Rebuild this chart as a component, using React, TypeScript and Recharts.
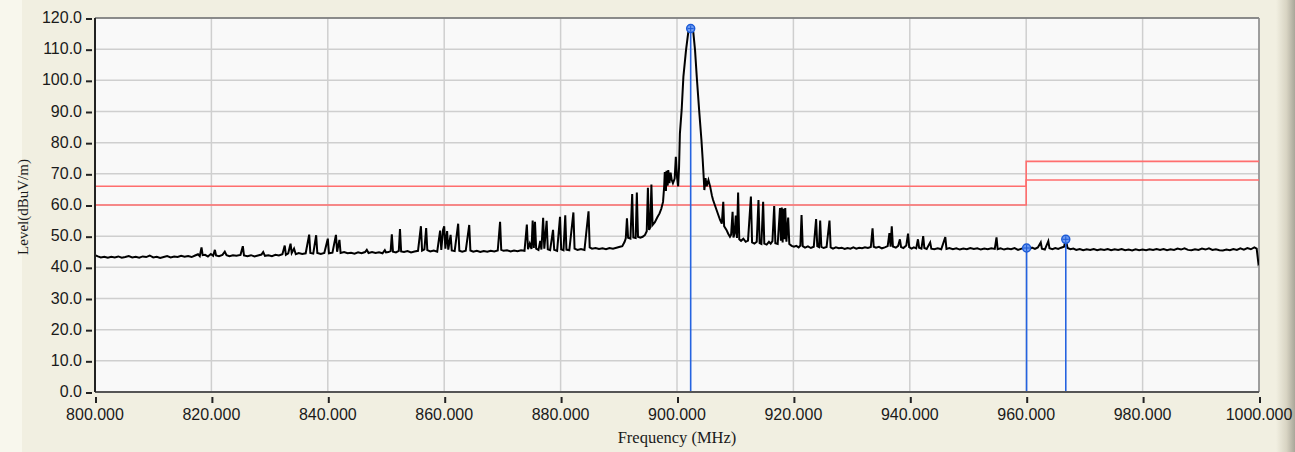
import React from "react";
import {
  LineChart,
  Line,
  XAxis,
  YAxis,
  CartesianGrid,
  ReferenceLine,
} from "recharts";

type Pt = [number, number];

const X_TICKS = [800, 820, 840, 860, 880, 900, 920, 940, 960, 980, 1000];
const Y_TICKS = [0, 10, 20, 30, 40, 50, 60, 70, 80, 90, 100, 110, 120];

// spectrum sweep in pieces (MHz, dBuV/m)
const SWEEP_800_850: Pt[] = [
  [800.0, 43.9], [800.5, 43.5], [801.0, 43.2], [801.6, 43.4], [802.2, 43.1], [802.8, 43.4],
  [803.4, 43.2], [804.0, 43.5], [804.6, 43.1], [805.2, 43.3], [805.8, 43.6], [806.4, 43.2],
  [807.0, 43.4], [807.6, 43.1], [808.2, 43.5], [808.8, 43.3], [809.4, 43.8], [810.0, 43.2],
  [810.6, 43.4], [811.2, 43.0], [811.8, 43.3], [812.4, 43.6], [813.0, 43.2], [813.6, 43.5],
  [814.2, 43.3], [814.8, 43.7], [815.4, 43.4], [816.0, 43.6], [816.6, 43.3], [817.2, 43.8],
  [817.7, 44.2], [818.0, 43.6], [818.3, 46.4], [818.5, 43.9], [818.9, 44.0], [819.4, 43.5],
  [819.9, 44.3], [820.3, 43.7], [820.6, 45.6], [820.8, 43.8], [821.3, 43.6], [821.9, 44.0],
  [822.3, 45.0], [822.6, 43.9], [823.1, 43.6], [823.7, 43.9], [824.3, 43.7], [825.0, 44.0],
  [825.4, 46.8], [825.6, 43.8], [826.2, 43.6], [826.8, 43.9], [827.4, 43.5], [828.0, 43.8],
  [828.6, 44.1], [828.9, 44.9], [829.2, 43.7], [829.8, 43.9], [830.4, 43.6], [831.0, 44.0],
  [831.6, 43.8], [832.2, 44.2], [832.6, 47.0], [832.8, 44.0], [833.2, 44.5], [833.6, 47.6],
  [833.8, 44.6], [834.2, 46.0], [834.5, 44.2], [835.0, 44.6], [835.6, 44.3], [836.2, 44.5],
  [836.8, 50.5], [837.0, 44.6], [837.5, 44.4], [838.0, 50.3], [838.2, 44.6], [838.8, 44.3],
  [839.4, 44.6], [840.0, 49.2], [840.2, 44.5], [840.8, 44.7], [841.4, 50.4], [841.6, 45.0],
  [842.0, 48.8], [842.2, 44.6], [842.8, 44.9], [843.4, 44.5], [844.0, 44.7], [844.6, 44.4],
  [845.2, 44.8], [845.8, 44.5], [846.4, 44.9], [846.7, 45.6], [847.0, 44.6], [847.6, 44.9],
  [848.2, 44.6], [848.8, 44.8], [849.4, 44.5], [849.8, 45.5], [850.0, 44.8],
];

const SWEEP_850_890: Pt[] = [
  [850.4, 44.9], [850.8, 45.2], [851.0, 50.6], [851.2, 45.0], [851.7, 44.8], [852.2, 45.3],
  [852.4, 52.3], [852.6, 45.1], [853.1, 44.9], [853.7, 45.2], [854.3, 44.8], [854.9, 45.1],
  [855.5, 45.3], [856.0, 53.2], [856.2, 45.4], [856.6, 45.8], [856.9, 52.6], [857.1, 45.5],
  [857.6, 45.1], [858.2, 45.4], [858.8, 45.0], [859.3, 51.8], [859.5, 45.6], [859.8, 52.0],
  [860.0, 53.2], [860.2, 46.0], [860.5, 51.6], [860.7, 45.7], [861.1, 50.4], [861.3, 45.4],
  [861.8, 45.2], [862.4, 54.0], [862.6, 45.3], [863.1, 45.0], [863.7, 45.3], [864.3, 53.6],
  [864.5, 45.4], [865.0, 45.0], [865.6, 45.3], [866.2, 44.9], [866.8, 45.2], [867.4, 45.0],
  [868.0, 45.3], [868.6, 45.1], [869.2, 45.4], [869.6, 54.6], [869.8, 45.6], [870.2, 45.3],
  [870.8, 45.5], [871.4, 45.1], [872.0, 45.4], [872.6, 45.2], [873.2, 45.5], [873.8, 45.3],
  [874.2, 53.7], [874.4, 45.8], [874.7, 47.6], [875.0, 45.9], [875.2, 55.0], [875.4, 46.2],
  [875.6, 54.6], [875.8, 46.0], [876.2, 45.6], [876.5, 48.5], [876.7, 45.7], [877.0, 55.9],
  [877.2, 46.0], [877.6, 54.9], [877.8, 45.8], [878.2, 45.5], [878.7, 52.0], [878.9, 45.6],
  [879.4, 45.3], [879.9, 56.2], [880.1, 45.8], [880.5, 45.5], [880.8, 56.7], [881.0, 45.7],
  [881.5, 45.5], [882.2, 57.6], [882.4, 46.0], [882.9, 45.6], [883.5, 45.9], [884.1, 45.6],
  [884.8, 58.0], [885.0, 46.4], [885.4, 46.0], [886.0, 46.2], [886.6, 45.9], [887.2, 46.1],
  [887.8, 45.8], [888.4, 46.2], [889.0, 46.0], [889.6, 46.3], [890.2, 46.6],
];

const SWEEP_890_920: Pt[] = [
  [890.6, 46.8], [891.0, 48.2], [891.2, 49.3], [891.4, 55.7], [891.6, 49.5], [892.0, 49.2],
  [892.3, 63.5], [892.5, 49.6], [892.9, 49.4], [893.1, 64.0], [893.3, 49.8], [893.7, 49.5],
  [894.1, 49.8], [894.5, 50.4], [894.8, 51.6], [895.0, 65.5], [895.2, 52.0], [895.4, 52.8],
  [895.6, 66.6], [895.8, 53.6], [896.2, 54.5], [896.6, 56.0], [897.0, 57.3], [897.3, 58.8],
  [897.6, 61.0], [897.8, 66.0], [897.9, 70.6], [898.1, 64.5], [898.2, 71.0], [898.4, 66.2],
  [898.5, 71.2], [898.7, 67.0], [898.9, 70.4], [899.1, 68.0], [899.3, 67.0], [899.6, 68.5],
  [899.8, 75.5], [900.0, 69.0], [900.2, 66.0], [900.35, 72.0], [900.5, 83.0], [900.8, 90.5],
  [901.1, 101.2], [901.55, 109.7], [901.95, 115.6], [902.35, 116.6], [902.8, 115.5],
  [903.1, 109.7], [903.4, 101.0], [903.8, 90.5], [904.2, 80.8], [904.4, 75.0], [904.55, 70.2],
  [904.7, 64.8], [904.9, 68.6], [905.1, 66.0], [905.4, 68.0], [905.7, 65.9], [906.0, 63.0],
  [906.2, 61.6], [906.5, 60.0], [906.8, 58.4], [907.1, 56.8], [907.4, 55.2], [907.7, 54.0],
  [907.95, 61.0], [908.1, 53.2], [908.5, 52.0], [908.8, 50.8], [909.1, 49.8], [909.3, 50.5],
  [909.55, 57.8], [909.7, 49.6], [909.9, 50.8], [910.1, 56.6], [910.3, 49.4], [910.5, 64.0],
  [910.7, 49.0], [911.0, 48.5], [911.4, 49.2], [911.8, 48.2], [912.2, 48.6], [912.7, 62.7],
  [912.9, 48.0], [913.3, 47.6], [913.7, 48.2], [914.0, 61.6], [914.2, 47.8], [914.5, 47.5],
  [914.8, 61.0], [915.0, 47.6], [915.4, 47.3], [915.8, 48.2], [916.1, 47.6], [916.4, 48.4],
  [916.7, 59.7], [916.9, 47.7], [917.3, 47.5], [917.7, 59.0], [917.85, 48.5], [918.0, 59.2],
  [918.15, 48.0], [918.3, 58.8], [918.45, 49.0], [918.6, 59.0], [918.8, 48.2], [919.1, 56.0],
  [919.3, 47.5], [919.7, 46.9], [920.1, 46.6],
];

const SWEEP_920_960: Pt[] = [
  [920.5, 46.9], [920.9, 46.4], [921.2, 47.0], [921.4, 56.8], [921.6, 46.8], [922.0, 46.3],
  [922.5, 46.7], [923.0, 46.2], [923.5, 46.6], [923.9, 55.5], [924.1, 46.8], [924.4, 46.5],
  [924.6, 55.0], [924.8, 46.6], [925.2, 46.2], [925.7, 46.5], [926.2, 55.0], [926.4, 46.4],
  [926.8, 46.0], [927.3, 46.4], [927.8, 46.1], [928.3, 46.3], [928.8, 45.9], [929.3, 46.2],
  [929.8, 46.0], [930.3, 46.4], [930.8, 46.0], [931.3, 46.3], [931.8, 46.1], [932.3, 46.4],
  [932.8, 46.2], [933.3, 46.5], [933.6, 52.5], [933.8, 46.6], [934.2, 46.3], [934.7, 46.6],
  [935.2, 46.1], [935.7, 46.4], [936.2, 46.8], [936.5, 51.0], [936.7, 46.6], [936.9, 53.2],
  [937.1, 46.7], [937.6, 46.3], [938.0, 46.9], [938.3, 49.0], [938.5, 46.5], [938.9, 46.2],
  [939.4, 47.0], [939.7, 50.8], [939.9, 46.5], [940.3, 46.0], [940.7, 46.4], [941.1, 46.1],
  [941.4, 49.0], [941.6, 46.3], [942.0, 46.0], [942.3, 50.0], [942.5, 46.2], [942.9, 45.9],
  [943.5, 48.0], [943.7, 46.0], [944.2, 45.8], [944.8, 46.1], [945.4, 45.8], [946.1, 49.7],
  [946.3, 45.9], [946.8, 46.2], [947.4, 45.8], [948.0, 46.1], [948.6, 45.7], [949.2, 46.0],
  [949.8, 45.8], [950.4, 46.2], [951.0, 45.9], [951.6, 46.1], [952.2, 45.7], [952.8, 46.0],
  [953.4, 45.8], [954.0, 46.1], [954.6, 45.9], [954.9, 49.6], [955.1, 45.8], [955.6, 46.1],
  [956.2, 45.7], [956.8, 46.0], [957.4, 45.8], [958.0, 46.2], [958.6, 45.6], [959.2, 46.0],
  [959.8, 46.3], [960.1, 46.1],
];

const SWEEP_960_1000: Pt[] = [
  [960.5, 45.8], [961.0, 46.3], [961.5, 45.9], [962.0, 46.4], [962.5, 48.0], [962.7, 46.0],
  [963.2, 45.7], [963.8, 48.4], [964.0, 46.1], [964.5, 45.8], [965.0, 46.2], [965.5, 45.9],
  [966.0, 46.3], [966.5, 46.6], [966.8, 49.0], [967.1, 46.2], [967.6, 45.8], [968.1, 46.0],
  [968.6, 45.6], [969.2, 45.9], [969.8, 45.5], [970.4, 45.8], [971.0, 45.6], [971.6, 45.9],
  [972.2, 45.5], [972.8, 45.8], [973.4, 45.6], [974.0, 45.9], [974.6, 45.5], [975.2, 45.8],
  [975.8, 45.6], [976.4, 45.9], [977.0, 45.5], [977.6, 45.7], [978.2, 45.4], [978.8, 45.8],
  [979.4, 45.5], [980.0, 45.7], [980.6, 45.5], [981.2, 45.8], [981.8, 45.6], [982.4, 45.9],
  [983.0, 45.6], [983.6, 45.9], [984.2, 45.5], [984.8, 45.8], [985.4, 45.6], [986.0, 46.0],
  [986.6, 45.7], [987.2, 46.1], [987.8, 45.6], [988.4, 45.5], [989.0, 45.8], [989.6, 45.6],
  [990.2, 46.0], [990.8, 45.7], [991.4, 46.1], [992.0, 45.6], [992.6, 45.8], [993.2, 45.5],
  [993.8, 45.4], [994.4, 45.7], [995.0, 45.5], [995.6, 45.9], [996.2, 45.6], [996.8, 46.1],
  [997.4, 45.7], [998.0, 46.2], [998.6, 45.8], [999.2, 46.4], [999.6, 46.0], [999.9, 41.2],
  [1000.0, 41.5],
];

// limit lines
const LIMIT_UPPER: Pt[] = [[800, 66], [960, 66], [960, 74], [1000, 74]];
const LIMIT_LOWER: Pt[] = [[800, 60], [960, 60], [960, 68], [1000, 68]];

// peak markers (freq, level)
const MARKERS: Pt[] = [[902.35, 116.6], [960.07, 46.2], [966.8, 49.0]];

const toRows = (pts: Pt[]) => pts.map(([f, v]) => ({ f, v }));

const spectrum = toRows([
  ...SWEEP_800_850,
  ...SWEEP_850_890,
  ...SWEEP_890_920,
  ...SWEEP_920_960,
  ...SWEEP_960_1000,
]);

const TICK_FONT = "'Liberation Sans', Arial, sans-serif";
const TITLE_FONT = "'Liberation Serif', 'Times New Roman', serif";

function YTick(props: any) {
  const { x, y, payload } = props;
  return (
    <g>
      <line x1={x - 9} x2={x - 3} y1={y + 1} y2={y + 1} stroke="#222" strokeWidth={2} />
      <text x={x - 13} y={y} dy={5} textAnchor="end" fontSize={16} fontFamily={TICK_FONT} fill="#1a1a1a">
        {Number(payload.value).toFixed(1)}
      </text>
    </g>
  );
}

function XTick(props: any) {
  const { x, y, payload } = props;
  return (
    <g>
      <line x1={x + 1} x2={x + 1} y1={y + 5} y2={y + 11} stroke="#222" strokeWidth={2} />
      <text x={x} y={y + 28} textAnchor="middle" fontSize={16} fontFamily={TICK_FONT} fill="#1a1a1a">
        {Number(payload.value).toFixed(3)}
      </text>
    </g>
  );
}

function MarkerDot(props: any) {
  const { cx, cy, index } = props;
  if (index !== 1) return <g key={`m-${index}`} />;
  return (
    <g key={`m-${index}`}>
      <circle cx={cx} cy={cy} r={4} fill="#6F9CF2" stroke="#1D5BD6" strokeWidth={1.5} />
      <line x1={cx - 3} x2={cx + 3} y1={cy} y2={cy} stroke="#1D5BD6" strokeWidth={1} />
      <line x1={cx} x2={cx} y1={cy - 3} y2={cy + 3} stroke="#1D5BD6" strokeWidth={1} />
    </g>
  );
}

const YTitle = () => (
  <text
    x={25}
    y={207}
    transform="rotate(-90 25 207)"
    textAnchor="middle"
    dominantBaseline="middle"
    fontSize={15}
    fontFamily={TITLE_FONT}
    fill="#1a1a1a"
  >
    Level(dBuV/m)
  </text>
);

const XTitle = () => (
  <text x={677} y={443} textAnchor="middle" fontSize={16.5} fontFamily={TITLE_FONT} fill="#1a1a1a">
    Frequency (MHz)
  </text>
);

export default function App() {
  return (
    <div
      style={{
        position: "absolute",
        left: 0,
        top: 0,
        width: 1295,
        height: 452,
        background: "#F1EFE1",
        overflow: "hidden",
      }}
    >
      <div style={{ position: "absolute", left: 0, top: 0, width: 22, height: 452, background: "#F8F7ED" }} />
      <div
        style={{
          position: "absolute",
          left: 1276,
          top: 0,
          width: 19,
          height: 452,
          background: "linear-gradient(to right, #F1EFE1, #D8D4C3 55%, #A9A699)",
        }}
      />
      <LineChart
        width={1295}
        height={452}
        margin={{ top: 18, right: 36, bottom: 0, left: 0 }}
        style={{ position: "absolute", left: 0, top: 0 }}
      >
        <CartesianGrid fill="#F9F9F9" stroke="#CFCFCF" strokeWidth={1.5} />
        <XAxis
          type="number"
          dataKey="f"
          domain={[800, 1000]}
          ticks={X_TICKS}
          allowDataOverflow
          height={60}
          interval={0}
          tickSize={0}
          tickMargin={0}
          tickLine={false}
          axisLine={{ stroke: "#555", strokeWidth: 2 }}
          tick={<XTick />}
          label={<XTitle />}
        />
        <YAxis
          type="number"
          domain={[0, 120]}
          ticks={Y_TICKS}
          allowDataOverflow
          width={95}
          interval={0}
          tickSize={0}
          tickMargin={0}
          tickLine={false}
          axisLine={{ stroke: "#222", strokeWidth: 2 }}
          tick={<YTick />}
          label={<YTitle />}
        />
        <ReferenceLine y={120} stroke="#707070" strokeWidth={1.5} />
        <ReferenceLine x={1000} stroke="#8A8A8A" strokeWidth={1.5} />
        <Line
          data={toRows(LIMIT_UPPER)}
          dataKey="v"
          type="linear"
          stroke="#FF6E6E"
          strokeWidth={1.6}
          dot={false}
          isAnimationActive={false}
        />
        <Line
          data={toRows(LIMIT_LOWER)}
          dataKey="v"
          type="linear"
          stroke="#FF6E6E"
          strokeWidth={1.6}
          dot={false}
          isAnimationActive={false}
        />
        <Line
          data={spectrum}
          dataKey="v"
          type="linear"
          stroke="#000"
          strokeWidth={2}
          dot={false}
          isAnimationActive={false}
        />
        {MARKERS.map(([f, v]) => (
          <Line
            key={f}
            data={[
              { f, v: 0 },
              { f, v },
            ]}
            dataKey="v"
            type="linear"
            stroke="#2563E0"
            strokeWidth={1.6}
            dot={MarkerDot}
            isAnimationActive={false}
          />
        ))}
      </LineChart>
    </div>
  );
}
